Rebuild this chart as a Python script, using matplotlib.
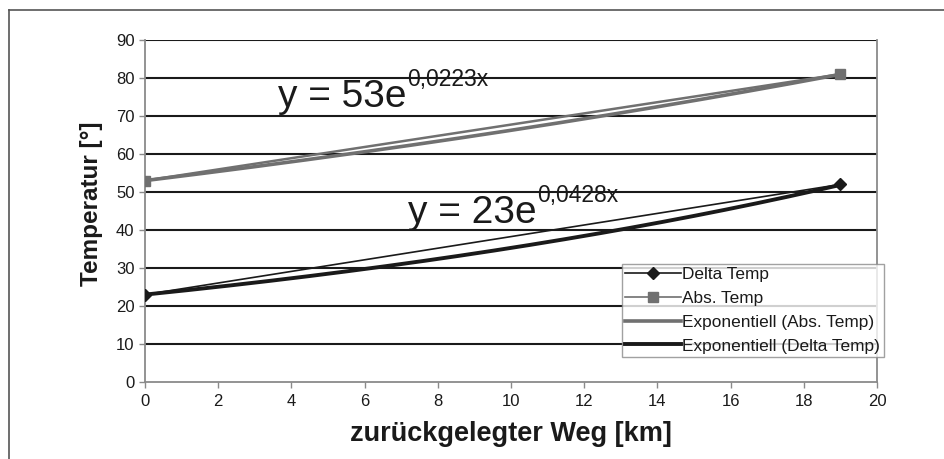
import numpy as np
import matplotlib
matplotlib.use("Agg")
import matplotlib.pyplot as plt
from matplotlib.lines import Line2D

plt.rcParams['font.family'] = ['Liberation Sans', 'DejaVu Sans']

# data
weg = [0, 19]
delta_temp = [23, 52]
abs_temp = [53, 81]
# trend line coefficients (a * e^(b*x)) as printed in the chart
abs_a, abs_b = 53, 0.0223
delta_a, delta_b = 23, 0.0428
x_ticks = list(range(0, 21, 2))
y_ticks = list(range(0, 91, 10))

dark = '#1a1a1a'
grey = '#707070'

fig = plt.figure(figsize=(9.45, 4.59), dpi=100)
ax = fig.add_axes([145/945, 1-382/459, (877-145)/945, (382-40)/459])

# outer frame (left + top only visible)
fig.add_artist(Line2D([9/945, 9/945], [0, 1-10/459], color='#555555', lw=1.2))
fig.add_artist(Line2D([9/945, 1], [1-10/459, 1-10/459], color='#555555', lw=1.2))

for yt in y_ticks[1:]:
    ax.axhline(yt, color=dark, lw=1.5, zorder=1)

xs = np.linspace(0, 19, 200)
ax.plot(xs, abs_a*np.exp(abs_b*xs), color=grey, lw=2.6, zorder=3)
ax.plot(xs, delta_a*np.exp(delta_b*xs), color=dark, lw=2.8, zorder=3)
ax.plot(weg, delta_temp, color=dark, lw=1.2, marker='D', ms=6, zorder=4)
ax.plot(weg, abs_temp, color=grey, lw=1.8, marker='s', ms=7, zorder=4)


def equation(x, y, base, exp):
    t = ax.text(x, y, base, fontsize=28, color=dark, va='baseline', zorder=5)
    ax.annotate(exp, xy=(1, 0), xycoords=t, xytext=(0.5, 21), textcoords='offset points',
                fontsize=16.5, color=dark, va='baseline', ha='left', zorder=5)


equation(3.63, 72.4, 'y = 53e', '0,0223x')
equation(7.19, 41.8, 'y = 23e', '0,0428x')

ax.set_xlim(0, 20)
ax.set_ylim(0, 90)
ax.set_xticks(x_ticks)
ax.set_yticks(y_ticks)
for s in ['left', 'right', 'bottom']:
    ax.spines[s].set_color('#8a8a8a')
    ax.spines[s].set_linewidth(1.3)
ax.spines['top'].set_visible(False)
ax.tick_params(axis='both', colors='#8a8a8a', labelcolor=dark, labelsize=12, length=4, width=1)
ax.tick_params(axis='x', pad=5)

ax.set_xlabel('zurückgelegter Weg [km]', fontsize=19.5, fontweight='bold', color=dark, labelpad=8)
ax.set_ylabel('Temperatur [°]', fontsize=17.5, fontweight='bold', color=dark)
ax.yaxis.set_label_coords(-0.058, 0.52)

handles = [
    Line2D([], [], color=dark, lw=1.2, marker='D', ms=6),
    Line2D([], [], color=grey, lw=1.2, marker='s', ms=7),
    Line2D([], [], color=grey, lw=2.6),
    Line2D([], [], color=dark, lw=2.8),
]
labels = ['Delta Temp', 'Abs. Temp', 'Exponentiell (Abs. Temp)', 'Exponentiell (Delta Temp)']
leg = fig.legend(handles, labels, loc='upper left', bbox_to_anchor=(622/945, 1-264/459),
                 fontsize=12.4, frameon=True, fancybox=False, borderpad=0.2,
                 labelspacing=0.5, handlelength=3.2, handletextpad=0.1,
                 borderaxespad=0)
leg.get_frame().set_edgecolor('#8a8a8a')
leg.get_frame().set_linewidth(1.0)
for t in leg.get_texts():
    t.set_color(dark)

fig.savefig('out.png', dpi=100)
